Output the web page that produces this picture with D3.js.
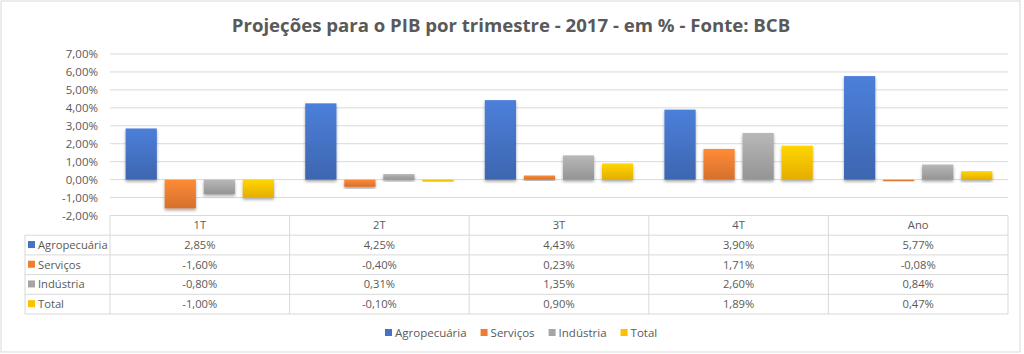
<!DOCTYPE html>
<html><head><meta charset="utf-8">
<script src="https://cdn.jsdelivr.net/npm/d3@7"></script>
<style>body{margin:0;background:#fff}svg{display:block}text{font-family:"Open Sans",sans-serif}</style>
</head><body><svg id="c" width="1024" height="354"></svg>
<script>
const categories = ["1T","2T","3T","4T","Ano"];
const seriesNames = ["Agropecuária","Serviços","Indústria","Total"];
const agropecuaria = [2.85, 4.25, 4.43, 3.90, 5.77];
const servicos = [-1.60, -0.40, 0.23, 1.71, -0.08];
const industria = [-0.80, 0.31, 1.35, 2.60, 0.84];
const total = [-1.00, -0.10, 0.90, 1.89, 0.47];
const yTicks = [-2,-1,0,1,2,3,4,5,6,7];
const colors = ["#4472C4","#ED7D31","#A5A5A5","#FFC000"];
const title = "Projeções para o PIB por trimestre - 2017 - em % - Fonte: BCB";

const values = [agropecuaria, servicos, industria, total];
const fmt = v => v.toFixed(2).replace(".", ",") + "%";
const svg = d3.select("#c");
const W = 1024, H = 354;
const m = {left:110, right:16, top:54, plotBottom:215.5};
const gridCol = "#d9d9d9", textCol = "#595959";

svg.append("rect").attr("x",1).attr("y",1).attr("width",W-5).attr("height",H-3)
  .attr("fill","#fff").attr("stroke","#d9d9d9");

const defs = svg.append("defs");
colors.forEach((c,i)=>{
  const g = defs.append("linearGradient").attr("id","g"+i).attr("x1",0).attr("y1",0).attr("x2",0).attr("y2",1);
  g.append("stop").attr("offset","0%").attr("stop-color", d3.color(c).brighter(0.3));
  g.append("stop").attr("offset","100%").attr("stop-color", d3.color(c).darker(0.3));
});
const f = defs.append("filter").attr("id","sh").attr("x","-20%").attr("y","-20%").attr("width","140%").attr("height","150%");
f.append("feDropShadow").attr("dx",0).attr("dy",2).attr("stdDeviation",1.5).attr("flood-color","#000").attr("flood-opacity",0.35);

svg.append("text").attr("x",511).attr("y",32).attr("text-anchor","middle")
  .attr("font-size",18.6).attr("font-weight","bold").attr("fill",textCol).text(title);

const x0 = d3.scaleBand().domain(categories).range([m.left, W-m.right]).padding(0);
const x1 = d3.scaleBand().domain(seriesNames).range([0, x0.bandwidth()]).paddingInner(0.2).paddingOuter(0.4);
const y = d3.scaleLinear().domain([-2,7]).range([m.plotBottom, m.top]);

// gridlines
svg.append("g").selectAll("line").data(yTicks.filter(t=>t>-2)).join("line")
  .attr("x1",m.left).attr("x2",W-m.right).attr("y1",d=>y(d)).attr("y2",d=>y(d))
  .attr("stroke",gridCol).attr("stroke-width",1);

// y axis labels
const yAxis = d3.axisLeft(y).tickValues(yTicks).tickSize(0).tickPadding(12).tickFormat(fmt);
const ya = svg.append("g").attr("transform",`translate(${m.left},0)`).call(yAxis);
ya.select(".domain").remove();
ya.selectAll("text").attr("font-size",11.5).attr("fill",textCol).attr("font-family",'"Open Sans",sans-serif');

// bars
categories.forEach((cat,ci)=>{
  seriesNames.forEach((s,si)=>{
    const v = values[si][ci];
    svg.append("rect")
      .attr("x", x0(cat)+x1(s)).attr("width", x1.bandwidth())
      .attr("y", y(Math.max(0,v))).attr("height", Math.max(1.5, Math.abs(y(v)-y(0))))
      .attr("fill", `url(#g${si})`).attr("filter","url(#sh)");
  });
});

// table
const rowH = 19.7;
const tTop = m.plotBottom;
const tLeft = 25;
const tg = svg.append("g");
tg.append("line").attr("x1",m.left).attr("x2",W-m.right).attr("y1",tTop).attr("y2",tTop).attr("stroke",gridCol);
for(let r=1;r<=5;r++){
  tg.append("line").attr("x1",tLeft).attr("x2",W-m.right).attr("y1",tTop+r*rowH).attr("y2",tTop+r*rowH).attr("stroke",gridCol);
}
tg.append("line").attr("x1",tLeft).attr("x2",tLeft).attr("y1",tTop+rowH).attr("y2",tTop+5*rowH).attr("stroke",gridCol);
categories.forEach(c=>{
  tg.append("line").attr("x1",x0(c)).attr("x2",x0(c)).attr("y1",tTop).attr("y2",tTop+5*rowH).attr("stroke",gridCol);
});
tg.append("line").attr("x1",W-m.right).attr("x2",W-m.right).attr("y1",tTop).attr("y2",tTop+5*rowH).attr("stroke",gridCol);
categories.forEach(c=>{
  tg.append("text").attr("x",x0(c)+x0.bandwidth()/2).attr("y",tTop+rowH/2+4).attr("text-anchor","middle")
    .attr("font-size",11.2).attr("fill",textCol).text(c);
});
seriesNames.forEach((s,si)=>{
  const cy = tTop+(si+1)*rowH+rowH/2;
  tg.append("rect").attr("x",tLeft+3).attr("y",cy-4).attr("width",7).attr("height",7).attr("fill",colors[si]);
  tg.append("text").attr("x",tLeft+13).attr("y",cy+4).attr("font-size",11.2).attr("fill",textCol).text(s);
  categories.forEach((c,ci)=>{
    tg.append("text").attr("x",x0(c)+x0.bandwidth()/2).attr("y",cy+4).attr("text-anchor","middle")
      .attr("font-size",11.2).attr("fill",textCol).text(fmt(values[si][ci]));
  });
});

// legend
const lg = svg.append("g");
let lx = 385;
seriesNames.forEach((s,si)=>{
  lg.append("rect").attr("x",lx).attr("y",329).attr("width",7).attr("height",7).attr("fill",colors[si]);
  const t = lg.append("text").attr("x",lx+10).attr("y",337).attr("font-size",11.5).attr("fill",textCol).text(s);
  lx += 10 + t.node().getComputedTextLength() + 14;
});
</script></body></html>
